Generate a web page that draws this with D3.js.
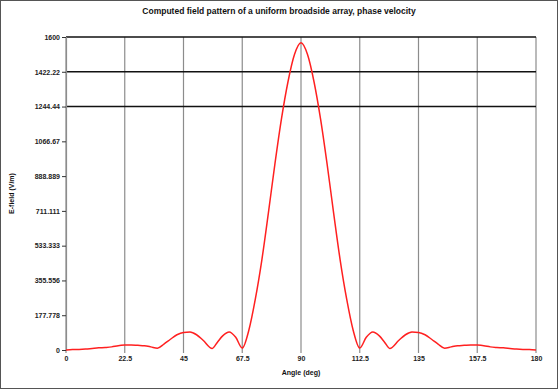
<!DOCTYPE html>
<html>
<head>
<meta charset="utf-8">
<script src="https://cdn.jsdelivr.net/npm/d3@7"></script>
<style>
  body { margin: 0; background: #fff; }
  svg { display: block; font-family: "Liberation Sans", Arial, sans-serif; }
</style>
</head>
<body>
<div id="chart"></div>
<script>
// data
const angles = [0, 2.5, 5, 7.5, 10, 12.5, 15, 17.5, 20, 22.5, 25, 27.5, 30, 32.5, 35, 37.5, 40, 42.5, 45, 47.5, 50, 52.5, 56,
  58, 60, 62.5, 65, 67.5, 70, 72.5, 75, 77.5, 80, 82.5, 85, 87.5, 90,
  92.5, 95, 97.5, 100, 102.5, 105, 107.5, 110, 112.5, 115, 117.5, 120, 122, 124, 127.5, 130, 132.5, 135, 137.5, 140,
  142.5, 145, 147.5, 150, 152.5, 155, 157.5, 160, 162.5, 165, 167.5, 170, 172.5, 175, 177.5, 180];
const field = [0, 2, 3, 5, 8, 11, 13, 16, 22, 25, 26, 24, 22, 16, 9, 30, 55, 78, 90, 92, 78, 50, 8,
  40, 72, 92, 65, 10, 100, 260, 460, 700, 950, 1180, 1370, 1510, 1570,
  1510, 1370, 1180, 950, 700, 460, 260, 100, 10, 65, 92, 72, 40, 8, 50, 78, 92, 90, 78, 55,
  30, 9, 16, 22, 24, 26, 25, 22, 16, 13, 11, 8, 5, 3, 2, 0];
const xTicks = [0, 22.5, 45, 67.5, 90, 112.5, 135, 157.5, 180];
const yTicks = [0, 177.778, 355.556, 533.333, 711.111, 888.889, 1066.67, 1244.44, 1422.22, 1600];
const refLines = [1244.44, 1422.22, 1600];

const W = 558, H = 389;
const margin = {left: 66, right: 22, top: 37, bottom: 39};
const width = W - margin.left - margin.right,
      height = H - margin.top - margin.bottom;

const svg = d3.select('#chart').append('svg')
  .attr('width', W).attr('height', H);

// outer frame
svg.append('rect')
  .attr('x', 0.5).attr('y', 0.5)
  .attr('width', W - 1).attr('height', H - 1)
  .attr('fill', '#fff').attr('stroke', '#555');

const g = svg.append('g')
  .attr('transform', 'translate(' + margin.left + ',' + margin.top + ')');

const x = d3.scaleLinear().domain([0, 180]).range([0, width]);
const y = d3.scaleLinear().domain([0, 1600]).range([height, 0]);

// vertical grid
g.selectAll('.vgrid')
  .data(xTicks)
  .enter().append('line')
  .attr('class', 'vgrid')
  .attr('x1', d => x(d)).attr('x2', d => x(d))
  .attr('y1', 0).attr('y2', height + 3)
  .attr('stroke', '#8c8c8c').attr('stroke-width', 1.2);

// horizontal reference lines
g.selectAll('.hgrid')
  .data(refLines)
  .enter().append('line')
  .attr('class', 'hgrid')
  .attr('x1', 0).attr('x2', width)
  .attr('y1', d => y(d)).attr('y2', d => y(d))
  .attr('stroke', '#111').attr('stroke-width', 1.5);

// y axis
const yAxis = d3.axisLeft(y).tickValues(yTicks).tickSize(4).tickPadding(2)
  .tickFormat(d => d === 0 ? '0' : String(d));
g.append('g').attr('class', 'y axis').call(yAxis)
  .call(a => a.select('.domain').attr('stroke', '#8c8c8c').attr('stroke-width', 1.2))
  .call(a => a.selectAll('.tick line').attr('stroke', '#333'))
  .selectAll('text')
  .attr('font-size', 7).attr('font-weight', 'bold').attr('fill', '#222');

// x axis labels
const xAxis = d3.axisBottom(x).tickValues(xTicks).tickSize(0).tickPadding(6)
  .tickFormat(d => String(d));
g.append('g').attr('class', 'x axis')
  .attr('transform', 'translate(0,' + height + ')')
  .call(xAxis)
  .call(a => a.select('.domain').remove())
  .selectAll('text')
  .attr('font-size', 7).attr('font-weight', 'bold').attr('fill', '#222');

// curve
const line = d3.line()
  .x(d => x(d[0]))
  .y(d => y(d[1]))
  .curve(d3.curveMonotoneX);
const pts = angles.map((a, i) => [a, field[i]]);
g.append('path')
  .datum(pts)
  .attr('fill', 'none')
  .attr('stroke', '#ff2020')
  .attr('stroke-width', 1.5)
  .attr('d', line);

// titles
svg.append('text')
  .attr('x', 279).attr('y', 14)
  .attr('text-anchor', 'middle')
  .attr('font-size', 8.5).attr('font-weight', 'bold').attr('fill', '#111')
  .text('Computed field pattern of a uniform broadside array, phase velocity');

svg.append('text')
  .attr('x', margin.left + width / 2).attr('y', 375)
  .attr('text-anchor', 'middle')
  .attr('font-size', 7).attr('font-weight', 'bold').attr('fill', '#111')
  .text('Angle (deg)');

svg.append('text')
  .attr('transform', 'translate(14,' + (margin.top + height / 2) + ') rotate(-90)')
  .attr('text-anchor', 'middle')
  .attr('font-size', 7).attr('font-weight', 'bold').attr('fill', '#111')
  .text('E-field (V/m)');
</script>
</body>
</html>
